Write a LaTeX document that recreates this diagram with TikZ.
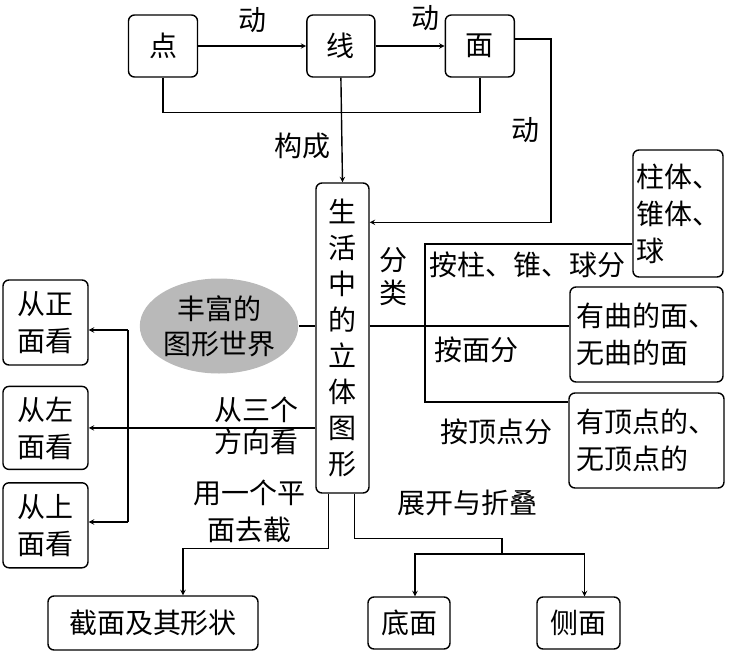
\documentclass[tikz,border=0pt]{standalone}
\usepackage{fontspec}
\newfontfamily\cjk{Noto Sans CJK SC}
\usetikzlibrary{shapes,arrows,positioning}

\begin{document}
\begin{tikzpicture}[x=1pt,y=-1pt,line width=1.4pt,font=\cjk\fontsize{28}{37}\selectfont]
    \tikzstyle{b} = [rectangle, rounded corners=6pt, draw, inner sep=0pt, align=center]
    \tikzstyle{arrow} = [->,>=stealth]
    \useasboundingbox (0,0) rectangle (729,670);
        % top row
        \node (d) [b, minimum width=69pt, minimum height=62pt] at (163,46) {点};
        \node (x) [b, minimum width=68pt, minimum height=62pt, right=108pt of d] {线};
        \node (m) [b, minimum width=69pt, minimum height=62pt, right=69pt of x] {面};
        % centre
        \node (sh) [b, minimum width=53pt, minimum height=310pt, font=\cjk\fontsize{28}{36}\selectfont] at (342.5,338) {生\\活\\中\\的\\立\\体\\图\\形};
        \node (e) [ellipse, fill=gray!55, minimum width=137pt, minimum height=95pt, inner sep=0pt, align=center, font=\cjk\fontsize{28}{35}\selectfont] at (219,326) {丰富的\\图形世界};
        % right
        \node (zt) [b, minimum width=90pt, minimum height=127pt, align=left] at (678,213.5) {柱体、\\锥体、\\球};
        \node (qm) [b, minimum width=153pt, minimum height=95pt, align=left] at (646.5,334.5) {有曲的面、\\无曲的面};
        \node (dd) [b, minimum width=155pt, minimum height=95pt, align=left] at (646.5,440.5) {有顶点的、\\无顶点的};
        % left
        \node (zm) [b, minimum width=85pt, minimum height=85pt] at (45.5,322.5) {从正\\面看};
        \node (zz) [b, minimum width=85pt, minimum height=83pt, below=20pt of zm] {从左\\面看};
        \node (zs) [b, minimum width=85pt, minimum height=85pt, below=12pt of zz] {从上\\面看};
        % bottom
        \node (jm) [b, minimum width=210pt, minimum height=54pt] at (153,623) {截面及其形状};
        \node (dm) [b, minimum width=82pt, minimum height=52pt] at (409,623) {底面};
        \node (cm) [b, minimum width=83pt, minimum height=52pt] at (578.5,623) {侧面};
        % labels
        \node (t1) at (252,20) {动};
        \node (t2) at (425,18) {动};
        \node (t3) at (525,130) {动};
        \node (t4) at (302,146) {构成};
        \node (t5) [align=center, font=\cjk\fontsize{28}{33}\selectfont] at (393,277) {分\\类};
        \node (t6) at (527,265) {按柱、锥、球分};
        \node (t7) at (476,350) {按面分};
        \node (t8) at (496,432) {按顶点分};
        \node (t9) [align=center, font=\cjk\fontsize{28}{32}\selectfont] at (256,426) {从三个\\方向看};
        \node (t10) [align=center] at (249,511) {用一个平\\面去截};
        \node (t11) at (467,503) {展开与折叠};
        % connectors
        \coordinate (c1) at (425,244);
        \coordinate (c2) at (425,402);
        \coordinate (l1) at (128,330);
        \coordinate (l2) at (128,522);
        \coordinate (fb) at (502,554);
        \draw[arrow] (d) -- (x);
        \draw[arrow] (x) -- (m);
        \draw (d.south) -- ++(0,35) -| (m.south);
        \draw[arrow] (x.south) -- (sh.north);
        \draw[arrow] ([yshift=7pt]m.east) -- ++(36,0) |- ([yshift=-40pt]sh.north east);
        \draw (e.east) -- (e.east -| sh.west);
        \draw (sh.east |- e) -- (qm.west |- e);
        \draw (c1 -| zt.west) -- (c1) -- (c2) -- (c2 -| dd.west);
        \draw[arrow] (sh.west |- zz) -- (zz);
        \draw[arrow] (l1) -- (l1 -| zm.east);
        \draw[arrow] (l2) -- (l2 -| zs.east);
        \draw (l1) -- (l2);
        \draw[arrow] ([xshift=-14pt]sh.south) -- ++(0,55) -| ([xshift=30pt]jm.north);
        \draw ([xshift=12pt]sh.south) -- ++(0,45) -| (fb);
        \draw[arrow] (fb) -| ([xshift=6pt]dm.north);
        \draw[arrow] (fb) -| ([xshift=6pt]cm.north);
\end{tikzpicture}
\end{document}
